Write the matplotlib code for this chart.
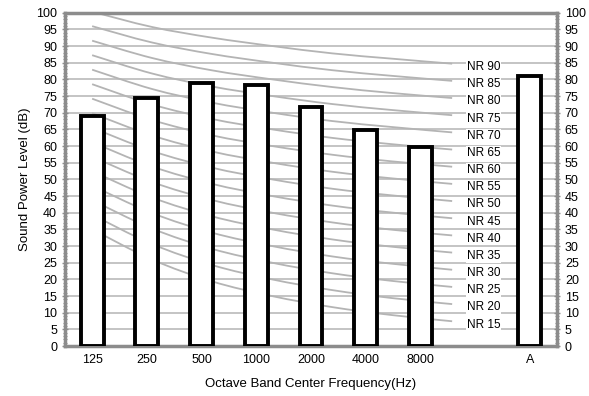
import numpy as np
import matplotlib.pyplot as plt
from matplotlib.ticker import MultipleLocator
from matplotlib.path import Path
from matplotlib.patches import PathPatch

plt.rcParams['font.family'] = ['Liberation Sans', 'DejaVu Sans']

# bands (blank slot between 8000 and A holds the NR labels)
bands = ['125', '250', '500', '1000', '2000', '4000', '8000', '', 'A']
levels = [69, 74.5, 78.8, 78.2, 71.8, 64.8, 59.8, None, 81]

# NR curves, values at 125 .. 8000 Hz
nr_names = [90, 85, 80, 75, 70, 65, 60, 55, 50, 45, 40, 35, 30, 25, 20, 15]
nr90 = [100.3, 95.7, 92.5, 90, 87.8, 86.2, 84.7]
nr85 = [95.95, 91.05, 87.6, 85, 82.75, 81.05, 79.55]
nr80 = [91.6, 86.4, 82.7, 80, 77.7, 75.9, 74.4]
nr75 = [87.25, 81.75, 77.85, 75, 72.6, 70.8, 69.25]
nr70 = [82.9, 77.1, 73.0, 70, 67.5, 65.7, 64.1]
nr65 = [78.55, 72.45, 68.1, 65, 62.45, 60.55, 58.95]
nr60 = [74.2, 67.8, 63.2, 60, 57.4, 55.4, 53.8]
nr55 = [69.85, 63.15, 58.35, 55, 52.3, 50.3, 48.65]
nr50 = [65.5, 58.5, 53.5, 50, 47.2, 45.2, 43.5]
nr45 = [61.15, 53.85, 48.65, 45, 42.15, 40.05, 38.35]
nr40 = [56.8, 49.2, 43.8, 40, 37.1, 34.9, 33.2]
nr35 = [52.45, 44.55, 38.9, 35, 32.0, 29.8, 28.05]
nr30 = [48.1, 39.9, 34.0, 30, 26.9, 24.7, 22.9]
nr25 = [43.75, 35.25, 29.15, 25, 21.85, 19.55, 17.75]
nr20 = [39.4, 30.6, 24.3, 20, 16.8, 14.4, 12.6]
nr15 = [35.05, 25.95, 19.4, 15, 11.7, 9.3, 7.45]
nr_curves = [nr90, nr85, nr80, nr75, nr70, nr65, nr60, nr55, nr50,
             nr45, nr40, nr35, nr30, nr25, nr20, nr15]


def smooth_path(xs, ys):
    # excel-like smoothed line: bezier segments through every point
    pts = np.column_stack([xs, ys])
    verts = [pts[0]]
    codes = [Path.MOVETO]
    n = len(pts)
    for i in range(n - 1):
        p0 = pts[max(i - 1, 0)]
        p1, p2 = pts[i], pts[i + 1]
        p3 = pts[min(i + 2, n - 1)]
        verts += [p1 + (p2 - p0) / 6, p2 - (p3 - p1) / 6, p2]
        codes += [Path.CURVE4] * 3
    return Path(verts, codes)


fig = plt.figure(figsize=(5.89, 3.96), dpi=100)
ax = fig.add_axes([0.110, 0.126, 0.836, 0.842])

x = np.arange(len(bands))
for i, v in enumerate(levels):
    if v is None:
        continue
    ax.bar(x[i], v, width=0.42, color='white', edgecolor='black',
           linewidth=2.8, zorder=3)

# NR curves sit on their own x scale (spans a bit past the 8000 bar)
cx = np.linspace(0, 6.58, 7)
for name, vals in zip(nr_names, nr_curves):
    ax.add_patch(PathPatch(smooth_path(cx, vals), facecolor='none',
                           edgecolor='#b4b4b4', lw=1.3, zorder=2))
    ax.text(7.15, vals[-1] - 1, 'NR %d' % name, ha='center', va='center',
            fontsize=8.5, zorder=4,
            bbox=dict(facecolor='white', edgecolor='none', pad=0.5))

ax.set_xlim(-0.5, 8.5)
ax.set_ylim(0, 100)
ax.set_xticks(x)
ax.set_xticklabels(bands, fontsize=9)
ax.yaxis.set_major_locator(MultipleLocator(5))
ax.yaxis.set_minor_locator(MultipleLocator(1))
ax.grid(axis='y', color='#c4c4c4', lw=1.4, zorder=1)
ax.set_axisbelow(True)
ax.tick_params(axis='x', length=0, pad=6)
ax.tick_params(axis='y', which='both', direction='inout', color='#8c8c8c',
               labelsize=9, left=True, right=True, labelright=True)
ax.tick_params(axis='y', which='major', length=4, width=1)
ax.tick_params(axis='y', which='minor', length=3, width=0.8)
for s in ax.spines.values():
    s.set_color('#8c8c8c')
    s.set_linewidth(2.5)

ax.set_ylabel('Sound Power Level (dB)', fontsize=9.5)
ax.set_xlabel('Octave Band Center Frequency(Hz)', fontsize=9.5, labelpad=8)

fig.savefig('out.png', dpi=100)
